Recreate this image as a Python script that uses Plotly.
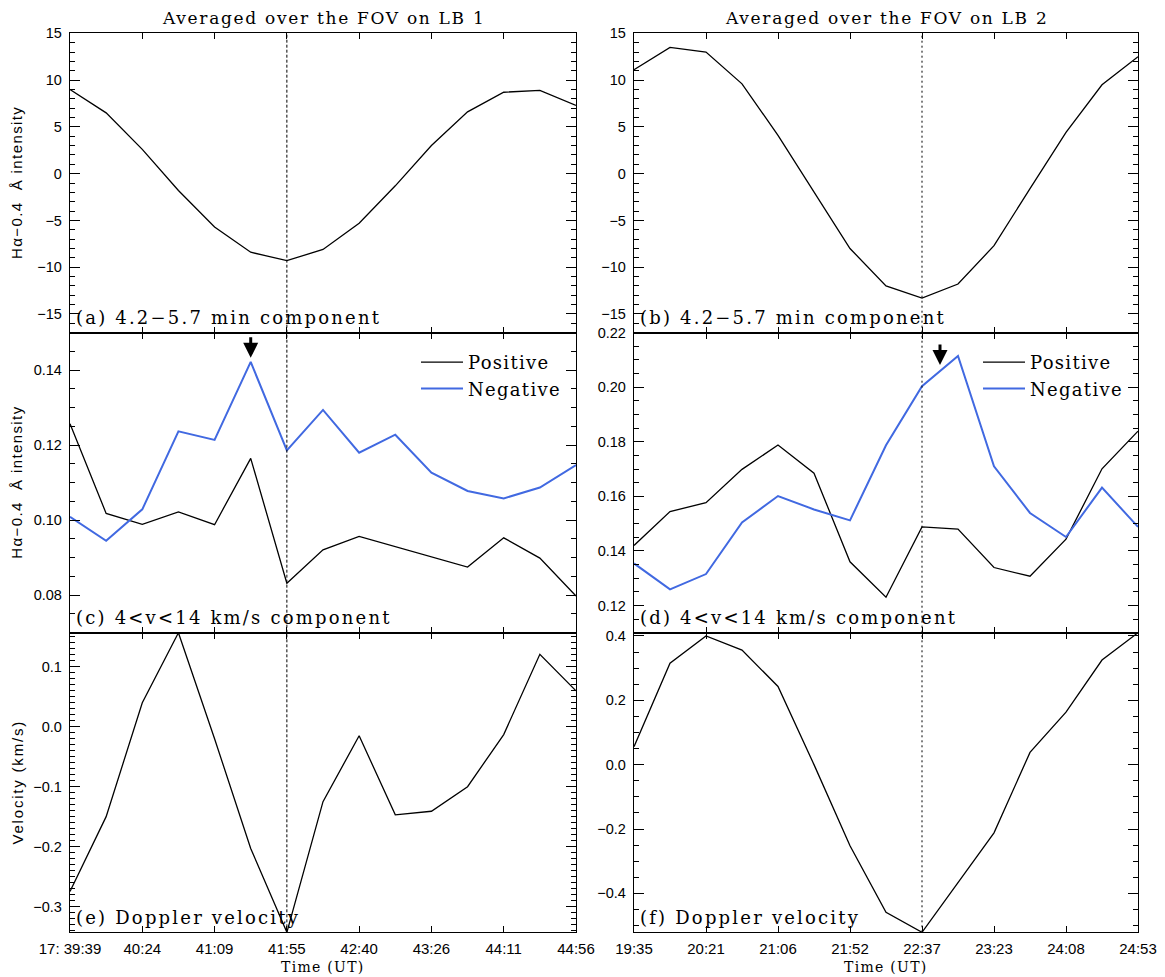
import plotly.graph_objects as go
from plotly.subplots import make_subplots

# ---------------------------------------------------------------- data
frames = list(range(15))                      # image frame index (~22.6 s cadence)
tick_frames = [0, 2, 4, 6, 8, 10, 12, 14]
time_labels_lb1 = ["17: 39:39", "40:24", "41:09", "41:55", "42:40", "43:26", "44:11", "44:56"]
time_labels_lb2 = ["19:35", "20:21", "21:06", "21:52", "22:37", "23:23", "24:08", "24:53"]

# 4.2-5.7 min filtered H-alpha -0.4 A intensity
lb1_period_comp = [9.0, 6.5, 2.6, -1.8, -5.7, -8.4, -9.3, -8.1, -5.3, -1.3, 3.0, 6.6, 8.7, 8.9, 7.3]
lb2_period_comp = [11.1, 13.5, 13.0, 9.6, 4.1, -2.0, -8.0, -12.0, -13.3, -11.8, -7.7, -1.6, 4.4, 9.5, 12.5]

# 4<v<14 km/s component, positive / negative
lb1_positive = [0.1257, 0.1018, 0.0989, 0.1022, 0.0988, 0.1165, 0.0832, 0.0921,
                0.0957, 0.0929, 0.0902, 0.0875, 0.0953, 0.0899, 0.0798]
lb1_negative = [0.1009, 0.0945, 0.1029, 0.1237, 0.1214, 0.1422, 0.1186, 0.1294,
                0.1180, 0.1228, 0.1127, 0.1078, 0.1058, 0.1087, 0.1147]
lb2_positive = [0.1420, 0.1544, 0.1577, 0.1699, 0.1788, 0.1685, 0.1360, 0.1230,
                0.1488, 0.1480, 0.1339, 0.1307, 0.1443, 0.1701, 0.1839]
lb2_negative = [0.1354, 0.1259, 0.1315, 0.1504, 0.1601, 0.1552, 0.1512, 0.1787,
                0.2004, 0.2115, 0.1710, 0.1539, 0.1451, 0.1632, 0.1488]

# Doppler velocity (km/s)
lb1_velocity = [-0.275, -0.150, 0.040, 0.157, -0.020, -0.203, -0.343, -0.125,
                -0.015, -0.147, -0.141, -0.100, -0.013, 0.121, 0.060]
lb2_velocity = [0.056, 0.315, 0.400, 0.356, 0.243, 0.0, -0.252, -0.459,
                -0.521, -0.365, -0.212, 0.038, 0.163, 0.325, 0.410]

# reference frames (vertical lines) and arrow marks
mark_frame_lb1 = 6
mark_frame_lb2 = 8
arrow_lb1 = (5, 0.1433)
arrow_lb2 = (8.5, 0.2082)

# ---------------------------------------------------------------- layout
W, H = 1165, 977
col_px = [(70, 576), (634, 1138)]
row_px = [(33.3, 332.7), (332.7, 632.7), (632.7, 932.3)]

SERIF = "DejaVu Serif"
SANS = "Liberation Sans"
BLUE = "#4169e1"


def spaced(text, px):
    """Wrap text in a span with extra letter spacing (wide plotter-style lettering)."""
    return f'<span style="letter-spacing:{px}px">{text}</span>'


fig = make_subplots(rows=3, cols=2)


def xdom(c):
    a, b = col_px[c - 1]
    return [a / W, b / W]


def ydom(r):
    a, b = row_px[r - 1]
    return [1 - b / H, 1 - a / H]


# curves
line_k = dict(color="black", width=1.3)
line_b = dict(color=BLUE, width=2)
pos_name = spaced("Positive", 1.3)
neg_name = spaced("Negative", 1.3)
fig.add_trace(go.Scatter(x=frames, y=lb1_period_comp, mode="lines", line=line_k, showlegend=False), 1, 1)
fig.add_trace(go.Scatter(x=frames, y=lb2_period_comp, mode="lines", line=line_k, showlegend=False), 1, 2)
fig.add_trace(go.Scatter(x=frames, y=lb1_positive, mode="lines", line=line_k, name=pos_name, legend="legend"), 2, 1)
fig.add_trace(go.Scatter(x=frames, y=lb1_negative, mode="lines", line=line_b, name=neg_name, legend="legend"), 2, 1)
fig.add_trace(go.Scatter(x=frames, y=lb2_positive, mode="lines", line=line_k, name=pos_name, legend="legend2"), 2, 2)
fig.add_trace(go.Scatter(x=frames, y=lb2_negative, mode="lines", line=line_b, name=neg_name, legend="legend2"), 2, 2)
fig.add_trace(go.Scatter(x=frames, y=lb1_velocity, mode="lines", line=line_k, showlegend=False), 3, 1)
fig.add_trace(go.Scatter(x=frames, y=lb2_velocity, mode="lines", line=line_k, showlegend=False), 3, 2)

# y-axis setup per panel: range, major step, minor step, format
yspec = {
    (1, 1): ([-17, 15], 5, 1, "d"),
    (1, 2): ([-17, 15], 5, 1, "d"),
    (2, 1): ([0.07, 0.15], 0.02, 0.005, ".2f"),
    (2, 2): ([0.11, 0.22], 0.02, 0.005, ".2f"),
    (3, 1): ([min(lb1_velocity), max(lb1_velocity)], 0.1, 0.01, ".1f"),
    (3, 2): ([min(lb2_velocity), max(lb2_velocity)], 0.2, 0.05, ".1f"),
}

axis_common = dict(showgrid=False, zeroline=False, showline=True, linecolor="black",
                   linewidth=1.3, mirror="ticks", ticks="inside", tickcolor="black",
                   tickwidth=1, automargin=False)

for r in (1, 2, 3):
    for c in (1, 2):
        rng, dt, mdt, fmt = yspec[(r, c)]
        fig.update_yaxes(row=r, col=c, domain=ydom(r), range=rng, tick0=0, dtick=dt,
                         tickformat=fmt, ticklen=10,
                         minor=dict(dtick=mdt, tick0=0, ticks="inside", ticklen=5,
                                    tickcolor="black", tickwidth=1),
                         tickfont=dict(family=SANS, size=14.5, color="black"),
                         ticklabelstandoff=4, **axis_common)
        labels = time_labels_lb1 if c == 1 else time_labels_lb2
        fig.update_xaxes(row=r, col=c, domain=xdom(c), range=[0, 14],
                         tickmode="array", tickvals=tick_frames, ticktext=labels,
                         showticklabels=(r == 3), ticklen=6,
                         tickfont=dict(family=SANS, size=15, color="black"),
                         ticklabelstandoff=3, **axis_common)

# dashed / dotted reference lines through all panels of a column
for r in (1, 2, 3):
    fig.add_vline(x=mark_frame_lb1, row=r, col=1,
                  line=dict(color="black", width=1, dash="3px,2px"))
    fig.add_vline(x=mark_frame_lb2, row=r, col=2,
                  line=dict(color="black", width=1, dash="2px,3px"))

# arrows
fig.add_annotation(x=arrow_lb1[0], y=arrow_lb1[1], xref="x3", yref="y3", text="",
                   showarrow=True, ax=0, ay=-22, arrowhead=2, arrowsize=1,
                   arrowwidth=3, arrowcolor="black")
fig.add_annotation(x=arrow_lb2[0], y=arrow_lb2[1], xref="x4", yref="y4", text="",
                   showarrow=True, ax=0, ay=-22, arrowhead=2, arrowsize=1,
                   arrowwidth=3, arrowcolor="black")

# column titles and time-axis titles
for c, title in ((1, "Averaged over the FOV on LB 1"), (2, "Averaged over the FOV on LB 2")):
    a, b = col_px[c - 1]
    fig.add_annotation(x=(a + b) / 2 / W, y=1 - 18 / H, xref="paper", yref="paper",
                       text=spaced(title, 1.7), showarrow=False, xanchor="center",
                       yanchor="middle", font=dict(family=SERIF, size=17, color="black"))
    fig.add_annotation(x=(a + b) / 2 / W, y=1 - 967 / H, xref="paper", yref="paper",
                       text=spaced("Time (UT)", 1.3), showarrow=False, xanchor="center",
                       yanchor="middle", font=dict(family=SERIF, size=14, color="black"))

# panel labels
panel_text = {
    (1, 1): "(a) 4.2\u22125.7 min component",
    (1, 2): "(b) 4.2\u22125.7 min component",
    (2, 1): "(c) 4&lt;v&lt;14 km/s component",
    (2, 2): "(d) 4&lt;v&lt;14 km/s component",
    (3, 1): "(e) Doppler velocity",
    (3, 2): "(f) Doppler velocity",
}
for (r, c), txt in panel_text.items():
    a, b = col_px[c - 1]
    top, bot = row_px[r - 1]
    fig.add_annotation(x=(a + 4) / W, y=1 - (bot - 15) / H, xref="paper", yref="paper",
                       text=spaced(txt, 2.2), showarrow=False, xanchor="left",
                       yanchor="middle", font=dict(family=SERIF, size=18, color="black"))

# y-axis titles (left column)
ytitles = {1: ("H\u03b1\u22120.4  \u00c5 intensity", 1.4),
           2: ("H\u03b1\u22120.4  \u00c5 intensity", 1.4),
           3: ("Velocity (km/s)", 1.8)}
for r, (txt, sp) in ytitles.items():
    top, bot = row_px[r - 1]
    fig.add_annotation(x=17 / W, y=1 - (top + bot) / 2 / H, xref="paper", yref="paper",
                       text=spaced(txt, sp), showarrow=False, textangle=-90,
                       xanchor="center", yanchor="middle",
                       font=dict(family=SANS, size=15, color="black"))

legend_style = dict(bgcolor="rgba(0,0,0,0)", borderwidth=0, itemwidth=42,
                    font=dict(family=SERIF, size=18, color="black"),
                    xanchor="left", yanchor="top", tracegroupgap=0)
fig.update_layout(
    width=W, height=H,
    margin=dict(l=0, r=0, t=0, b=0, autoexpand=False),
    paper_bgcolor="white", plot_bgcolor="white",
    legend=dict(x=416 / W, y=1 - 344 / H, **legend_style),
    legend2=dict(x=978 / W, y=1 - 344 / H, **legend_style),
)

fig.write_html("out.html")
